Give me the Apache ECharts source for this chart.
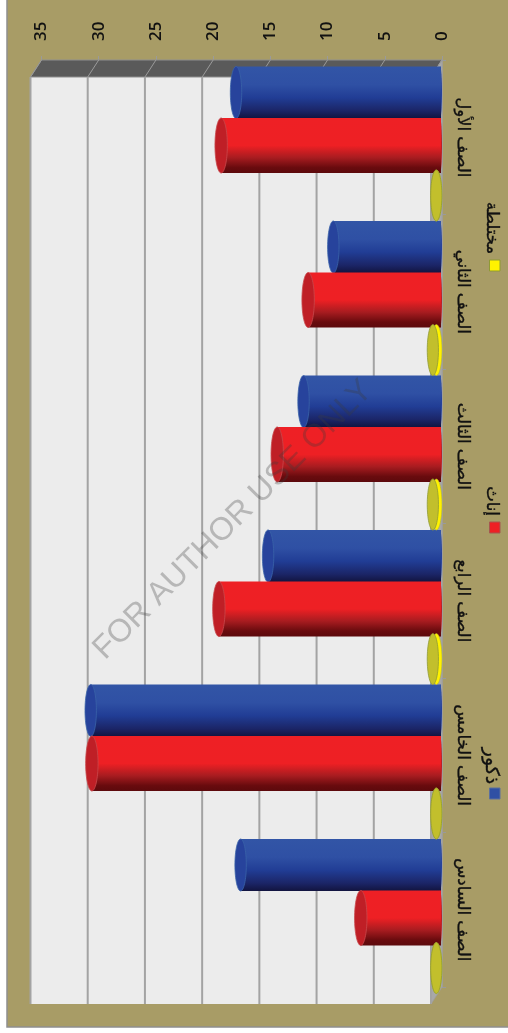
<!DOCTYPE html>
<html lang="ar">
<head>
<meta charset="utf-8">
<style>html,body{margin:0;padding:0;background:#fff}#c{width:508px;height:1033px}</style>
<script src="https://cdn.jsdelivr.net/npm/echarts@6/dist/echarts.min.js"></script>
</head>
<body>
<div id="c"></div>
<script>
var categories = ['الصف الأول','الصف الثاني','الصف الثالث','الصف الرابع','الصف الخامس','الصف السادس'];
var males   = [18, 9.5, 12.1, 15.2, 30.7, 17.6];
var females = [19.3, 11.7, 14.4, 19.5, 30.6, 7.1];
var mixed   = [0.5, 0.8, 0.8, 0.8, 0.5, 0.5];
var axisTicks = [0, 5, 10, 15, 20, 25, 30, 35];
var seriesNames = ['ذكور', 'إناث', 'مختلطة'];

var DX = -11, DY = 17;           // depth offset of the 3D box
var TAN = '#a89c66', GRID = '#a3a3a3';

function grad(stops) {
  return new echarts.graphic.LinearGradient(0, 0, 0, 1, stops.map(function (s) { return { offset: s[0], color: s[1] }; }));
}

var looks = {
  male: { start: 6.5 / 154.5, h: 52 / 154.5, rx: 5.7,
    body: grad([[0, '#3255a6'], [0.35, '#2f50a4'], [0.6, '#213d95'], [0.85, '#1b2567'], [1, '#12143f']]),
    cap: '#27439c', edge: '#3a63a8' },
  female: { start: 58 / 154.5, h: 55 / 154.5, rx: 6.2,
    body: grad([[0, '#ee2025'], [0.5, '#ee2024'], [0.72, '#a81c20'], [0.9, '#690b0e'], [1, '#5c090c']]),
    cap: '#bf1f26', edge: '#c8494c' },
  mixed: { start: 110 / 154.5, h: 51 / 154.5, rx: 5.6,
    body: '#fff200', cap: '#c2bf2c', edge: '#8f9a33' }
};

function cylinder(look) {
  return function (params, api) {
    var cat = api.value(0), val = api.value(1);
    var band = api.size([0, 1])[1];
    var end = api.coord([val, cat]), base = api.coord([0, cat]);
    var top = end[1] - band / 2 + band * look.start;
    var h = band * look.h;
    var cy = top + h / 2;
    var children = [];
    if (look === looks.mixed) {
      children.push({ type: 'ellipse', shape: { cx: base[0] - look.rx, cy: cy, rx: look.rx, ry: h / 2 },
        style: { fill: look.body, stroke: '#b8b52a', lineWidth: 0.6 } });
    } else {
      children.push({ type: 'ellipse', shape: { cx: base[0] - 2, cy: cy, rx: 2, ry: h / 2 }, style: { fill: look.cap } });
      children.push({ type: 'rect', shape: { x: end[0], y: top, width: base[0] - end[0] - 1, height: h },
        style: { fill: look.body } });
    }
    children.push({ type: 'ellipse', shape: { cx: end[0], cy: cy, rx: look.rx, ry: h / 2 },
      style: { fill: look.cap, stroke: look.edge, lineWidth: 0.8 } });
    return { type: 'group', children: children };
  };
}

function renderWalls(params, api) {
  var c = params.coordSys;
  var L = c.x, R = c.x + c.width, T = c.y, B = c.y + c.height;
  return { type: 'group', children: [
    { type: 'rect', shape: { x: L + DX, y: T + DY, width: c.width, height: c.height },
      style: { fill: '#ececec' } },
    { type: 'polygon', shape: { points: [[L + DX, T + DY], [L, T], [R, T], [R + DX, T + DY]] },
      style: { fill: '#5a5a5a', stroke: '#8e8e8e', lineWidth: 1 } },
    { type: 'polygon', shape: { points: [[R, T], [R, B], [R + DX, B + DY], [R + DX, T + DY]] },
      style: { fill: '#a8a8a8', stroke: '#a0a0a0', lineWidth: 0.8 } }
  ] };
}

function renderGrid(params, api) {
  var p = api.coord([api.value(0), 0]);
  var c = params.coordSys;
  var T = c.y, B = c.y + c.height;
  return { type: 'group', children: [
    { type: 'line', shape: { x1: p[0], y1: T, x2: p[0] + DX, y2: T + DY },
      style: { stroke: '#9a9a9a', lineWidth: 1 } },
    { type: 'line', shape: { x1: p[0] + DX, y1: T + DY, x2: p[0] + DX, y2: B + DY },
      style: { stroke: GRID, lineWidth: 2 } }
  ] };
}

var FONT = 'Open Sans';

function legendItem(i, textY, boxY, size, color, border) {
  return [
    { type: 'text', x: 491, y: textY, rotation: -Math.PI / 2, z: 20,
      style: { text: seriesNames[i], fontFamily: 'DejaVu Sans', fontSize: size, fill: '#111', stroke: '#111', lineWidth: 0.35, align: 'center', verticalAlign: 'middle' } },
    { type: 'rect', z: 20, shape: { x: 489.5, y: boxY, width: 10.5, height: 11 },
      style: { fill: color, stroke: border, lineWidth: 1 } }
  ];
}

var chart = echarts.init(document.getElementById('c'), null, { renderer: 'canvas' });
chart.setOption({
  backgroundColor: '#fff',
  animation: false,
  grid: { left: 41.5, right: 66, top: 60, bottom: 46 },
  xAxis: {
    type: 'value', position: 'top', inverse: true, min: 0, max: 35, interval: 5,
    axisLine: { show: false },
    axisTick: { show: true, length: 4, lineStyle: { color: '#9a9a9a', width: 1 } },
    splitLine: { show: false },
    axisLabel: { rotate: -90, margin: 19, color: '#111', fontFamily: FONT, fontSize: 17, fontWeight: 600,
      formatter: function (v) { return axisTicks.indexOf(v) >= 0 ? String(v) : ''; } }
  },
  yAxis: {
    type: 'category', position: 'right', inverse: true, data: categories,
    axisLine: { show: true, lineStyle: { color: '#a0a0a0', width: 1.5 } },
    axisTick: { show: true, length: 4, lineStyle: { color: '#9a9a9a', width: 1 } },
    axisLabel: { rotate: -90, margin: 20, color: '#111', fontFamily: 'DejaVu Sans', fontSize: 16.5, fontWeight: 'normal',
      textBorderColor: '#111', textBorderWidth: 0.35, align: 'center', verticalAlign: 'middle' }
  },
  series: [
    { type: 'custom', silent: true, clip: false, z: 1, data: [[0]], encode: { x: 0 }, renderItem: renderWalls },
    { type: 'custom', silent: true, clip: false, z: 2, data: axisTicks.map(function (v) { return [v]; }), encode: { x: 0 }, renderItem: renderGrid },
    { type: 'custom', name: seriesNames[0], clip: false, z: 3, encode: { x: 1, y: 0 }, renderItem: cylinder(looks.male),
      data: males.map(function (v, i) { return [i, v]; }) },
    { type: 'custom', name: seriesNames[1], clip: false, z: 4, encode: { x: 1, y: 0 }, renderItem: cylinder(looks.female),
      data: females.map(function (v, i) { return [i, v]; }) },
    { type: 'custom', name: seriesNames[2], clip: false, z: 5, encode: { x: 1, y: 0 }, renderItem: cylinder(looks.mixed),
      data: mixed.map(function (v, i) { return [i, v]; }) }
  ],
  graphic: [
    { type: 'rect', z: -10, silent: true, shape: { x: 7, y: -3, width: 510, height: 1030 },
      style: { fill: TAN, stroke: '#8f8f8f', lineWidth: 1.5 } }
  ].concat(
    legendItem(0, 766, 788, 19, '#2f50a4', '#5a6f9e'),
    legendItem(1, 501, 522, 16.5, '#ee2024', '#a5574f'),
    legendItem(2, 228, 260, 16.5, '#fff200', '#8f9a33'),
    [{ type: 'text', x: 233, y: 520, rotation: Math.PI / 4, z: 30, silent: true,
       style: { text: 'FOR AUTHOR USE ONLY', fontFamily: 'Liberation Sans', fontSize: 32, fill: 'rgba(60,60,60,0.3)', align: 'center', verticalAlign: 'middle' } }]
  )
});
</script>
</body>
</html>
